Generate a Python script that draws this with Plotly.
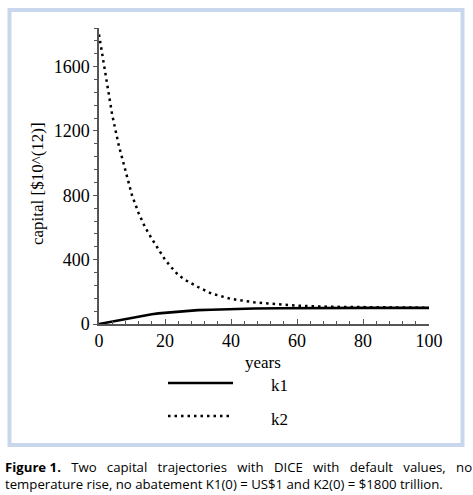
import plotly.graph_objects as go

# values (capital in $10^12)
years = [0, 2, 4, 6, 8, 10, 12, 14, 16, 18, 20, 22, 24, 26, 28, 30,
         34, 40, 47, 55, 60, 70, 80, 90, 100]
k1 = [0, 8, 16, 25, 33, 41, 48, 55, 61, 66, 70, 74, 78, 81, 84, 86,
      89, 93, 96, 98, 99, 100, 100, 100, 100]
k2 = [1800, 1540, 1300, 1110, 950, 800, 690, 600, 530, 465, 400, 350,
      305, 275, 250, 230, 190, 156, 135, 120, 114, 107, 104, 102, 101]

W, H = 473, 495
L, R, T, B = 99, 429, 28, 324   # plot area in pixels


def px(x):
    return (x - L) / (R - L)


def py(y):
    return (B - y) / (B - T)


serif = "Liberation Serif"
sans = "Open Sans"
dots = "2.5px,4px"

fig = go.Figure()
fig.add_trace(go.Scatter(x=years, y=k1, mode="lines", name="k1",
                         line=dict(color="black", width=2.6)))
fig.add_trace(go.Scatter(x=years, y=k2, mode="lines", name="k2",
                         line=dict(color="black", width=2.5, dash=dots)))

# frame round the figure
fig.add_shape(type="rect", xref="paper", yref="paper",
              x0=px(9.5), x1=px(462.5), y0=py(445), y1=py(10),
              line=dict(color="#c9d7ec", width=4))

# hand-drawn legend under the plot
fig.add_shape(type="line", xref="paper", yref="paper",
              x0=px(168), x1=px(233), y0=py(383), y1=py(383),
              line=dict(color="black", width=2.6))
fig.add_shape(type="line", xref="paper", yref="paper",
              x0=px(168), x1=px(231), y0=py(416), y1=py(416),
              line=dict(color="black", width=2.5, dash=dots))

notes = [
    dict(text="k1", x=px(269), y=py(385), xanchor="left"),
    dict(text="k2", x=px(269), y=py(419), xanchor="left"),
    dict(text="years", x=px(263), y=py(362), xanchor="center"),
    dict(text="capital [$10^(12)]", x=px(38), y=py(184), xanchor="center",
         textangle=-90),
]
for n in notes:
    fig.add_annotation(xref="paper", yref="paper", yanchor="middle",
                       showarrow=False, font=dict(family=serif, size=17,
                                                  color="black"), **n)

# caption; first line padded with no-break spaces to look justified
gap = " \u00a0\u00a0"
line1 = gap.join(["<b>Figure 1.</b>", "Two", "capital", "trajectories",
                  "with", "DICE", "with", "default", "values,", "no"])
line2 = ("temperature rise, no abatement K1(0) = US$1 and "
         "K2(0) = $1800 trillion.")
fig.add_annotation(xref="paper", yref="paper", x=px(3), y=py(475.5),
                   text=line1 + "<br>" + line2, showarrow=False,
                   xanchor="left", yanchor="middle", align="left",
                   font=dict(family=sans, size=13.2, color="black"))

axis = dict(showgrid=False, zeroline=False, showline=True,
            linecolor="#555", linewidth=1.5, tickcolor="#555",
            tickfont=dict(family=serif, size=18, color="black"))

fig.update_xaxes(range=[0, 100], dtick=20, ticks="inside", ticklen=5,
                 minor=dict(dtick=4, ticks="inside", ticklen=3,
                            tickcolor="#555"), **axis)
fig.update_yaxes(range=[0, 1840], dtick=400, ticks="outside", ticklen=4,
                 minor=dict(dtick=80, ticks="outside", ticklen=3,
                            tickcolor="#555"), **axis)

fig.update_layout(width=W, height=H, showlegend=False,
                  margin=dict(l=L, r=W - R, t=T, b=H - B),
                  plot_bgcolor="white", paper_bgcolor="white")

# drop the page's default body margin so the figure fills the window
fig.write_html("out.html", config={"displayModeBar": False},
               post_script="document.body.style.margin='0';")
